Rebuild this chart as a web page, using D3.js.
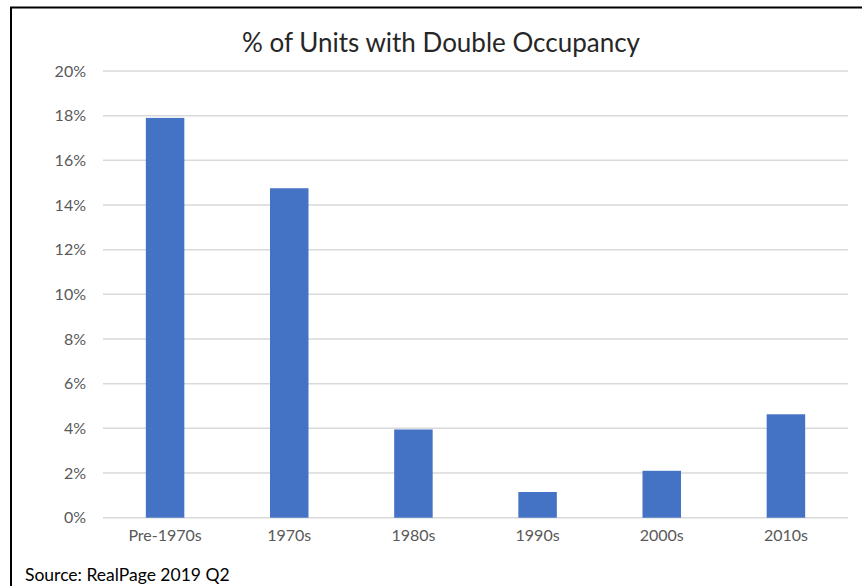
<!DOCTYPE html>
<html>
<head>
<meta charset="utf-8">
<script src="https://cdn.jsdelivr.net/npm/d3@7"></script>
<style>
  body { margin: 0; background: #fff; }
  text { font-family: Lato, "Open Sans", sans-serif; }
</style>
</head>
<body>
<svg id="chart" width="862" height="586"></svg>
<script>
// values
const categories = ['Pre-1970s', '1970s', '1980s', '1990s', '2000s', '2010s'];
const shares = [17.9, 14.75, 3.95, 1.15, 2.1, 4.63];
const yTicks = [0, 2, 4, 6, 8, 10, 12, 14, 16, 18, 20];

let svg = d3.select('#chart');

// frame of the pasted chart (right and bottom edges are cut off)
svg.append('rect')
    .attr('x', 11).attr('y', 7.5)
    .attr('width', 870).attr('height', 600)
    .attr('fill', '#fff')
    .attr('stroke', '#000')
    .attr('stroke-width', 2);

const plotLeft = 103, plotRight = 848, plotTop = 71, plotBottom = 517.7;

const x = d3.scaleBand()
    .domain(categories)
    .range([plotLeft, plotRight]);

const y = d3.scaleLinear()
    .domain([0, 20])
    .range([plotBottom, plotTop]);

// grid
svg.append('g')
    .selectAll('line')
    .data(yTicks)
    .enter()
    .append('line')
    .attr('x1', plotLeft).attr('x2', plotRight)
    .attr('y1', d => y(d)).attr('y2', d => y(d))
    .attr('stroke', '#d9d9d9')
    .attr('stroke-width', 1.5);

// y labels
svg.append('g')
    .selectAll('text')
    .data(yTicks)
    .enter()
    .append('text')
    .attr('x', 86)
    .attr('y', d => y(d) + 5.5)
    .attr('text-anchor', 'end')
    .attr('font-size', 16)
    .attr('fill', '#595959')
    .text(d => d + '%');

// bars
let barW = x.bandwidth() * 0.31;
svg.append('g')
    .selectAll('rect')
    .data(categories)
    .enter()
    .append('rect')
    .attr('x', d => x(d) + x.bandwidth() / 2 - barW / 2)
    .attr('y', (d, i) => y(shares[i]))
    .attr('width', barW)
    .attr('height', (d, i) => y(0) - y(shares[i]))
    .attr('fill', '#4472c4');

// x labels
svg.append('g')
    .selectAll('text')
    .data(categories)
    .enter()
    .append('text')
    .attr('x', d => x(d) + x.bandwidth() / 2)
    .attr('y', 541)
    .attr('text-anchor', 'middle')
    .attr('font-size', 16)
    .attr('fill', '#595959')
    .text(d => d);

svg.append('text')
    .attr('x', 441)
    .attr('y', 52)
    .attr('text-anchor', 'middle')
    .attr('font-size', 26)
    .attr('fill', '#262626')
    .text('% of Units with Double Occupancy');

svg.append('text')
    .attr('x', 25)
    .attr('y', 581)
    .attr('font-size', 17.5)
    .attr('fill', '#000')
    .text('Source: RealPage 2019 Q2');
</script>
</body>
</html>
